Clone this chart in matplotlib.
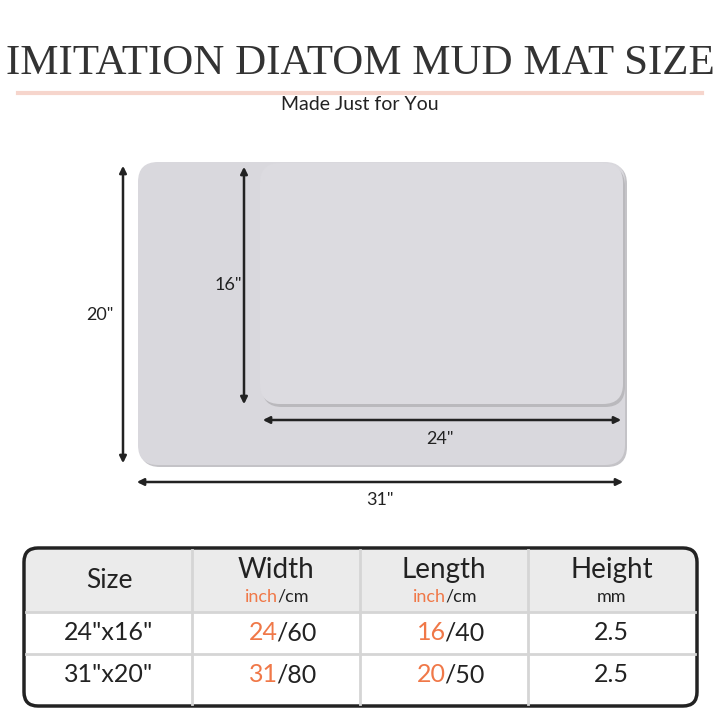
import matplotlib
matplotlib.use("Agg")
import matplotlib.pyplot as plt
from matplotlib.patches import FancyBboxPatch, Rectangle

title = "IMITATION DIATOM MUD MAT SIZE"
subtitle = "Made Just for You"
headers = ["Size", "Width", "Length", "Height"]
units = [None, ("inch", "/cm"), ("inch", "/cm"), ("", "mm")]
sizes = ['24"x16"', '31"x20"']
width_in = ["24", "31"]; width_cm = ["60", "80"]
length_in = ["16", "20"]; length_cm = ["40", "50"]
height_mm = ["2.5", "2.5"]
dims = {"small_w": '24"', "small_h": '16"', "big_w": '31"', "big_h": '20"'}

OR = "#f07848"; TX = "#222222"; MAT = "#d9d8dd"
fig = plt.figure(figsize=(7.2, 7.2), dpi=100)
ax = fig.add_axes([0, 0, 1, 1]); ax.set_xlim(0, 720); ax.set_ylim(720, 0); ax.axis("off")
F = "Lato"

ax.text(360, 64, title, ha="center", va="center", fontsize=31, family="Liberation Serif", color="#333333")
ax.plot([18, 702], [93, 93], color="#f6d5cc", lw=3)
ax.text(360, 104, subtitle, ha="center", va="center", fontsize=14, family=F, color=TX)

def rr(x0, y0, x1, y1, r, **kw):
    ax.add_patch(FancyBboxPatch((x0 + r, y0 + r), x1 - x0 - 2 * r, y1 - y0 - 2 * r,
                                boxstyle=f"round,pad={r}", **kw))

rr(140, 164, 627, 467, 20, fc="#c4c3c7", ec="none")
rr(138, 162, 625, 465, 20, fc=MAT, ec="none")
rr(262, 166, 625, 407, 20, fc="#bab9bd", ec="none")
rr(260, 163, 623, 404, 20, fc="#dcdbe0", ec="none")

def arrow(p0, p1):
    ax.annotate("", xy=p1, xytext=p0, arrowprops=dict(arrowstyle="<|-|>", color=TX, lw=1.8, mutation_scale=10))
arrow((123, 163), (123, 466)); ax.text(100, 315, dims["big_h"], ha="center", va="center", fontsize=13, family=F, color=TX)
arrow((244, 164), (244, 407)); ax.text(228, 285, dims["small_h"], ha="center", va="center", fontsize=13, family=F, color=TX)
arrow((260, 420), (624, 420)); ax.text(440, 439, dims["small_w"], ha="center", va="center", fontsize=13, family=F, color=TX)
arrow((134, 482), (626, 482)); ax.text(380, 500, dims["big_w"], ha="center", va="center", fontsize=13, family=F, color=TX)

# table
ax.add_patch(Rectangle((26, 550), 669, 62, fc="#ebebeb", ec="none"))
cols = [26, 192, 360, 528, 695]
for x in cols[1:-1]:
    ax.plot([x, x], [550, 704], color="#d5d5d5", lw=2)
for y in [612, 654]:
    ax.plot([26, 695], [y, y], color="#d5d5d5", lw=2)
rr(24, 548, 697, 706, 14, fc="none", ec="#222222", lw=2.5)
cx = [(cols[i] + cols[i + 1]) / 2 for i in range(4)]
ax.text(cx[0], 581, headers[0], ha="center", va="center", fontsize=19, family=F, color=TX)
for i in range(1, 4):
    ax.text(cx[i], 570, headers[i], ha="center", va="center", fontsize=20, family=F, color=TX)
    a, b = units[i]
    if a:
        ax.text(cx[i] + 2, 597, a, ha="right", va="center", fontsize=13, family=F, color=OR)
        ax.text(cx[i] + 1, 597, b, ha="left", va="center", fontsize=13, family=F, color=TX)
    else:
        ax.text(cx[i], 597, b, ha="center", va="center", fontsize=13, family=F, color=TX)
rows_y = [633, 675]
for r in range(2):
    y = rows_y[r]
    ax.text(cx[0], y, sizes[r], ha="center", va="center", fontsize=18, family=F, color=TX)
    for i, (a, b) in ((1, (width_in[r], width_cm[r])), (2, (length_in[r], length_cm[r]))):
        ax.text(cx[i] + 2, y, a, ha="right", va="center", fontsize=18, family=F, color=OR)
        ax.text(cx[i], y, "/" + b, ha="left", va="center", fontsize=18, family=F, color=TX)
    ax.text(cx[3], y, height_mm[r], ha="center", va="center", fontsize=18, family=F, color=TX)

fig.savefig("out.png", dpi=100)
